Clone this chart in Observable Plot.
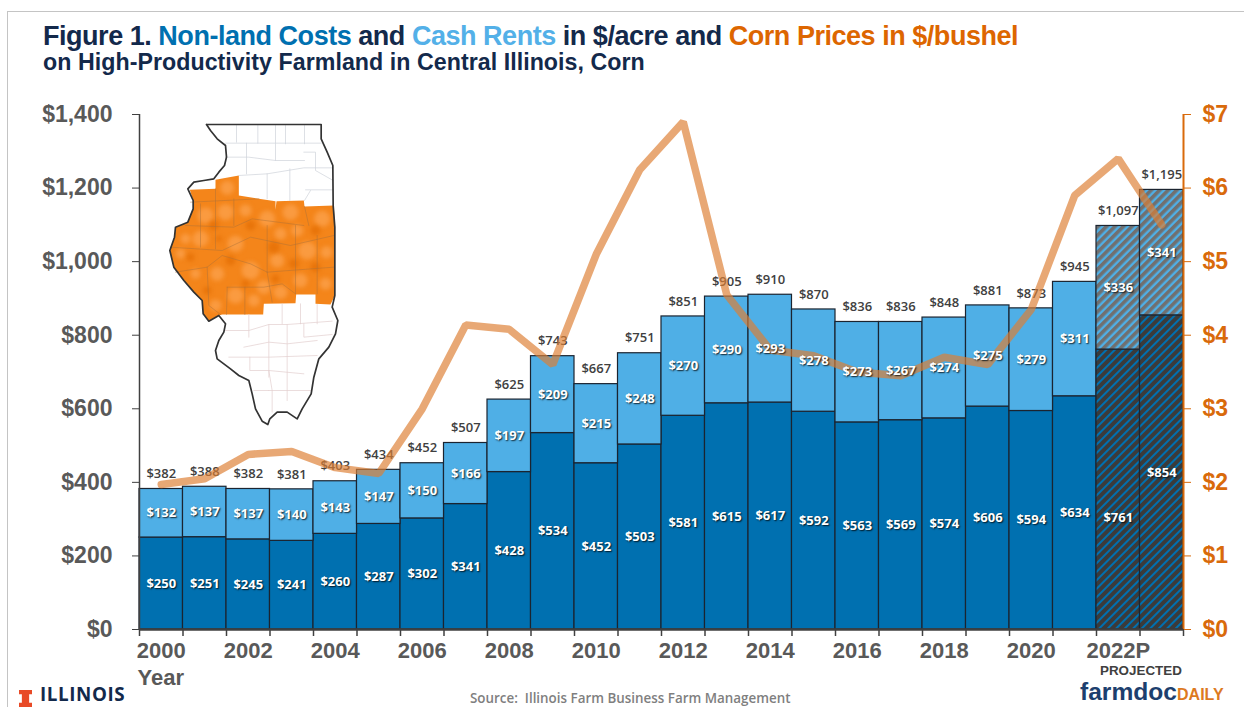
<!DOCTYPE html>
<html><head><meta charset="utf-8">
<script src="https://cdn.jsdelivr.net/npm/d3@7"></script>
<script src="https://cdn.jsdelivr.net/npm/@observablehq/plot@0.6"></script>
<style>
html,body{margin:0;padding:0;background:#fff;overflow:hidden;width:1244px;height:707px}
#page{position:relative;width:1244px;height:707px;overflow:hidden;font-family:"Liberation Sans",Arial,sans-serif}
#head{position:relative;height:100px}
#frame{position:absolute;left:7px;top:11px;width:1240px;height:720px;border-left:1.5px solid #c4c4c4;border-top:1.5px solid #c4c4c4;box-sizing:border-box}
#t1{position:absolute;left:43px;top:21px;font-weight:700;font-size:27px;letter-spacing:-.47px;color:#13294B;white-space:nowrap}
#t2{position:absolute;left:43px;top:49px;font-weight:700;font-size:23.2px;letter-spacing:.05px;color:#13294B;white-space:nowrap}
#chart{position:absolute;left:0;top:100px}
#map{position:absolute;left:150px;top:110px}
.f{position:absolute;white-space:nowrap;line-height:1}
</style></head><body>
<div id="page">
<div id="frame"></div>
<div id="head">
<div id="t1">Figure 1. <span style="color:#0070B0">Non-land Costs</span> and <span style="color:#53B0E8">Cash Rents</span> in $/acre and <span style="color:#DD6600">Corn Prices in $/bushel</span></div>
<div id="t2">on High-Productivity Farmland in Central Illinois, Corn</div>
</div>
<div id="chart"></div>
<div id="map"></div>
<div class="f" style="left:19px;top:690px;width:13px;height:17px;background:#E84A27;clip-path:polygon(0 0,100% 0,100% 25%,78% 25%,78% 75%,100% 75%,100% 100%,0 100%,0 75%,22% 75%,22% 25%,0 25%)"></div>
<div class="f" style="left:40px;top:685px;font:700 18.8px/1 'Open Sans',sans-serif;letter-spacing:.6px;color:#13294B">ILLINOIS</div>
<div class="f" style="left:470px;top:692px;font:600 13.4px/1 'Open Sans',sans-serif;color:#7f7f7f">Source:&nbsp; Illinois Farm Business Farm Management</div>
<div class="f" style="left:1100px;top:664px;font:700 13.4px/1 'Liberation Sans',sans-serif;color:#404040">PROJECTED</div>
<div class="f" style="left:1080px;top:680px;font:700 24.6px/1 'Liberation Sans',sans-serif;color:#1D3F6E">farmdoc<span style="font-size:16px;color:#DD7A1F">DAILY</span></div>
</div>
<script>
const years=[2000,2001,2002,2003,2004,2005,2006,2007,2008,2009,2010,2011,2012,2013,2014,2015,2016,2017,2018,2019,2020,2021,2022,2023];
const nonland=[250,251,245,241,260,287,302,341,428,534,452,503,581,615,617,592,563,569,574,606,594,634,761,854];
const rents=[132,137,137,140,143,147,150,166,197,209,215,248,270,290,293,278,273,267,274,275,279,311,336,341];
const totals=[382,388,382,381,403,434,452,507,625,743,667,751,851,905,910,870,836,836,848,881,873,945,1097,1195];
const cornPrice=[1.97,2.05,2.38,2.42,2.2,2.12,3.0,4.14,4.08,3.6,5.1,6.25,6.9,4.55,3.8,3.72,3.5,3.45,3.7,3.6,4.35,5.9,6.4,5.5];
const xLabels=["2000","2002","2004","2006","2008","2010","2012","2014","2016","2018","2020","2022P"];
const xLabelYears=[2000,2002,2004,2006,2008,2010,2012,2014,2016,2018,2020,2022];
const leftTicks=[0,200,400,600,800,1000,1200,1400];
const priceTicks=[0,1,2,3,4,5,6,7];
const projectedFrom=2022;
const priceFactor=200; // $1,400 on the left axis lines up with $7 on the right

const rows=years.map((year,i)=>({year,nonland:nonland[i],rent:rents[i],total:totals[i],price:cornPrice[i],projected:year>=projectedFrom}));
const ink="#595959",axisInk="#404040",orange="#D96A0B",barLine="#1b2430";
const font="'Open Sans',sans-serif",axisFont="'Liberation Sans',sans-serif";
const shadow=g=>{g.style.textShadow="1px 1px 1.5px rgba(0,0,0,.8)";return g;};
const shadowed=(i,s,v,dim,ctx,next)=>shadow(next(i,s,v,dim,ctx));
const blurred=(i,s,v,dim,ctx,next)=>{const g=next(i,s,v,dim,ctx);g.style.filter="blur(2px)";return g;};
const actual=rows.filter(d=>!d.projected), proj=rows.filter(d=>d.projected);

const svg=Plot.plot({
  width:1244,height:590,marginLeft:139,marginRight:61,marginTop:14,marginBottom:61,
  style:{background:"transparent",overflow:"visible"},
  x:{domain:[2000,2024],axis:null},
  y:{domain:[0,1400],axis:null},
  marks:[
    Plot.rectY(actual,{x1:"year",x2:d=>d.year+1,y1:0,y2:"nonland",fill:"#0070B0",stroke:barLine,strokeWidth:1.2}),
    Plot.rectY(actual,{x1:"year",x2:d=>d.year+1,y1:"nonland",y2:"total",fill:"#4FAFE6",stroke:barLine,strokeWidth:1.2}),
    Plot.rectY(proj,{x1:"year",x2:d=>d.year+1,y1:0,y2:"nonland",fill:"url(#hatchLow)",stroke:barLine,strokeWidth:1.2}),
    Plot.rectY(proj,{x1:"year",x2:d=>d.year+1,y1:"nonland",y2:"total",fill:"url(#hatchHigh)",stroke:barLine,strokeWidth:1.2}),
    Plot.axisX({ticks:years.concat(2024),tickSize:7,tickFormat:()=>"",stroke:axisInk,strokeWidth:1.5,label:null}),
    Plot.ruleX([2000],{stroke:axisInk,strokeWidth:1.5}),
    Plot.ruleX([2024],{stroke:orange,strokeWidth:2}),
    Plot.ruleY([0],{stroke:axisInk,strokeWidth:2.5}),
    Plot.axisY({ticks:leftTicks,tickSize:7,tickPadding:20,tickFormat:d=>"$"+d3.format(",")(d),stroke:axisInk,fill:ink,fontSize:23,fontWeight:700,fontFamily:axisFont,label:null}),
    Plot.axisY({anchor:"right",ticks:priceTicks.map(p=>p*priceFactor),tickSize:7,tickPadding:12,tickFormat:d=>"$"+d/priceFactor,stroke:orange,fill:orange,fontSize:23,fontWeight:700,fontFamily:axisFont,label:null}),
    Plot.text(xLabelYears.map((y,i)=>({y,label:xLabels[i]})),{x:d=>d.y+0.5,frameAnchor:"bottom",dy:28,text:"label",fill:ink,fontSize:22,fontWeight:700,fontFamily:axisFont}),
    Plot.text(["Year"],{x:()=>2000,frameAnchor:"bottom",textAnchor:"start",dy:55,dx:-2,text:d=>d,fill:ink,fontSize:22,fontWeight:700,fontFamily:axisFont}),
    Plot.text(rows,{x:d=>d.year+.5,y:"total",text:d=>"$"+d3.format(",")(d.total),dy:-15,fill:"#404040",fontSize:13,fontWeight:600,fontFamily:font}),
    Plot.line(rows,{x:d=>d.year+.5,y:d=>d.price*priceFactor,stroke:"#DD7F33",strokeOpacity:.68,strokeWidth:7.5,strokeLinejoin:"miter"}),
    Plot.text(rows,{x:d=>d.year+.5,y:d=>d.nonland+d.rent/2,text:d=>"$"+d.rent,fill:"white",fontSize:13,fontWeight:700,fontFamily:font,render:shadowed}),
    Plot.text(rows.filter(d=>d.year!==2022),{x:d=>d.year+.5,y:d=>d.nonland/2,text:d=>"$"+d.nonland,fill:"white",fontSize:13,fontWeight:700,fontFamily:font,render:shadowed}),
    Plot.text(rows.filter(d=>d.year===2022),{x:d=>d.year+.5,y:d=>d.nonland/2,dy:28,text:d=>"$"+d.nonland,fill:"white",fontSize:13,fontWeight:700,fontFamily:font,render:shadowed})
  ]
});
const NS="http://www.w3.org/2000/svg";
const defs=document.createElementNS(NS,"defs");
defs.innerHTML=`
<pattern id="hatchLow" patternUnits="userSpaceOnUse" width="6" height="6" patternTransform="rotate(45)"><rect width="6" height="6" fill="#0070B0"/><rect width="4" height="6" fill="#3b3b3b"/></pattern>
<pattern id="hatchHigh" patternUnits="userSpaceOnUse" width="6" height="6" patternTransform="rotate(45)"><rect width="6" height="6" fill="#4FAFE6"/><rect width="3.6" height="6" fill="#707070"/></pattern>`;
svg.insertBefore(defs,svg.firstChild);
document.getElementById("chart").appendChild(svg);

// Inset map of Illinois, in units of a 600x960 sketch
const stateOutline=[[168,42],[512,42],[512,85],[530,125],[547,165],[548,285],[553,350],[553,555],[545,590],[562,630],[555,670],[535,710],[505,745],[490,800],[482,850],[455,895],[440,925],[410,905],[380,905],[358,925],[352,942],[335,932],[315,895],[305,850],[295,810],[265,795],[240,775],[200,745],[195,720],[205,690],[220,665],[225,640],[205,615],[175,632],[158,610],[155,570],[130,545],[100,510],[70,470],[58,420],[72,380],[75,350],[112,335],[128,295],[128,270],[112,235],[130,215],[160,210],[190,205],[205,185],[222,165],[228,140],[225,105],[200,85],[180,60],[168,42]];
const centralRegion=[[195,208],[265,195],[265,255],[325,265],[375,272],[375,298],[378,272],[460,270],[462,288],[550,285],[553,350],[553,555],[540,582],[495,580],[495,552],[437,552],[435,578],[340,580],[338,612],[215,612],[205,615],[175,632],[158,610],[155,570],[130,545],[100,510],[70,470],[58,420],[72,380],[75,350],[112,335],[128,295],[128,270],[118,238],[195,235]];
const northCounties=[[[258,45],[258,95]],[[322,45],[322,98]],[[375,45],[375,100],[375,150]],[[405,45],[405,100]],[[462,45],[462,100]],[[225,98],[512,98]],[[288,98],[288,190]],[[225,140],[295,140],[375,150],[462,150]],[[460,125],[495,125],[495,180],[548,210]],[[265,195],[350,190],[460,172],[548,172]],[[350,190],[350,265]],[[418,175],[418,270]],[[465,238],[548,238]],[[480,240],[462,270]]];
const southCounties=[[[295,612],[295,680]],[[395,580],[395,640]],[[450,580],[450,640]],[[500,582],[500,640]],[[225,660],[295,660],[355,642],[410,642],[545,632]],[[355,642],[355,800]],[[410,642],[410,870]],[[460,640],[460,680],[545,672]],[[280,710],[355,695],[410,700],[500,690]],[[235,740],[355,740],[500,735]],[[298,740],[298,780],[355,780],[460,790]],[[355,840],[480,840]],[[355,780],[365,840],[365,905]],[[310,840],[355,840]]];
const centralCounties=[[[120,275],[325,265]],[[195,235],[195,415]],[[150,280],[150,410]],[[250,265],[250,345]],[[105,345],[250,350],[305,325],[460,345]],[[60,410],[215,420],[300,380],[420,405],[550,375]],[[75,485],[170,470],[215,435],[300,460],[350,485],[550,470]],[[170,470],[175,585],[210,612]],[[230,530],[340,530],[395,520],[435,550]],[[230,530],[228,612]],[[283,530],[283,612]],[[350,345],[350,485]],[[435,345],[435,550]],[[500,375],[500,550]],[[462,288],[475,345]],[[350,485],[365,575]]];
const lightBlotches=[[230,232,7],[165,315,8],[225,305,8],[285,300,6],[350,325,8],[420,305,8],[515,325,8],[150,385,8],[105,385,5],[255,400,8],[390,370,6],[470,420,9],[528,425,6],[90,430,5],[300,480,9],[200,490,7],[135,490,5],[380,450,7],[450,510,7],[340,530,7],[255,555,8],[310,570,6],[390,545,7],[525,520,6],[195,585,6],[440,360,6]];
const darkBlotches=[[190,345,5],[300,345,5],[370,410,6],[430,460,5],[240,450,5],[495,360,5],[120,440,4],[170,540,4],[375,505,4],[495,470,5],[285,520,4],[205,385,3]];
const segs=(groups)=>groups.flatMap((pts,k)=>pts.map(([a,b])=>({a,b,k})));
const mapPlot=Plot.plot({
  width:200,height:320,margin:0,
  style:{background:"transparent",overflow:"visible"},
  x:{domain:[0,600],axis:null},y:{domain:[0,960],range:[0,320],axis:null},
  r:{type:"identity"},
  marks:[
    Plot.line(stateOutline,{x:d=>d[0],y:d=>d[1],fill:"white",stroke:"none"}),
    Plot.line(centralRegion,{x:d=>d[0],y:d=>d[1],fill:"#F4851A",stroke:"none"}),
    Plot.dot(lightBlotches,{x:d=>d[0],y:d=>d[1],r:d=>d[2],fill:"#FBA04A",fillOpacity:.8,stroke:"none",render:blurred}),
    Plot.dot(darkBlotches,{x:d=>d[0],y:d=>d[1],r:d=>d[2],fill:"#E56F05",fillOpacity:.8,stroke:"none",render:blurred}),
    Plot.line(segs(northCounties),{x:"a",y:"b",z:"k",stroke:"#cfd3da",strokeWidth:.7}),
    Plot.line(segs(southCounties),{x:"a",y:"b",z:"k",stroke:"#e3cfcf",strokeWidth:.7}),
    Plot.line(segs(centralCounties),{x:"a",y:"b",z:"k",stroke:"#a9703a",strokeWidth:.7,strokeOpacity:.65}),
    Plot.line(stateOutline,{x:d=>d[0],y:d=>d[1],stroke:"#333",strokeWidth:1.7})
  ]
});
document.getElementById("map").appendChild(mapPlot);
</script>
</body></html>
